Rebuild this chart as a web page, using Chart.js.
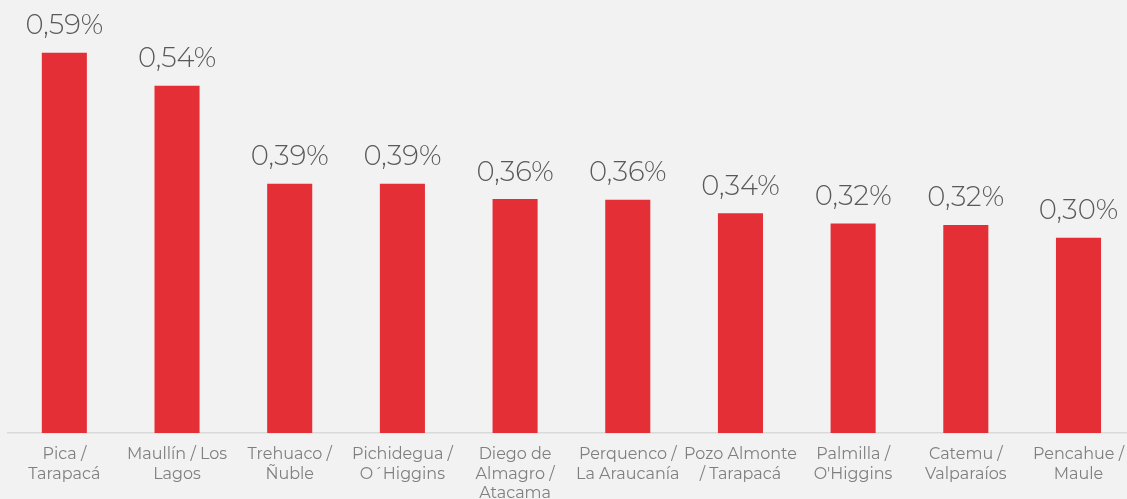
<!DOCTYPE html>
<html>
<head>
<meta charset="utf-8">
<script src="https://cdn.jsdelivr.net/npm/chart.js@4/dist/chart.umd.min.js"></script>
<style>
  html, body { margin: 0; padding: 0; background: #f2f2f2; overflow: hidden; }
  #wrap { position: relative; width: 1136px; height: 499px; }
</style>
</head>
<body>
<div id="wrap"><canvas id="c"></canvas></div>
<script>
const categories = [
  ['Pica /', 'Tarapacá'],
  ['Maullín / Los', 'Lagos'],
  ['Trehuaco /', 'Ñuble'],
  ['Pichidegua /', 'O´Higgins'],
  ['Diego de', 'Almagro /', 'Atacama'],
  ['Perquenco /', 'La Araucanía'],
  ['Pozo Almonte', '/ Tarapacá'],
  ['Palmilla /', "O'Higgins"],
  ['Catemu /', 'Valparaíos'],
  ['Pencahue /', 'Maule']
];
const values = [0.590, 0.539, 0.387, 0.387, 0.363, 0.362, 0.341, 0.325, 0.323, 0.303];
const valueLabels = ['0,59%', '0,54%', '0,39%', '0,39%', '0,36%', '0,36%', '0,34%', '0,32%', '0,32%', '0,30%'];

const FONT = "Montserrat, Lato, 'Open Sans', sans-serif";

const labelPlugin = {
  id: 'valueLabels',
  afterDatasetsDraw(chart) {
    const ctx = chart.ctx;
    const meta = chart.getDatasetMeta(0);
    ctx.save();
    ctx.font = '300 27.5px ' + FONT;
    ctx.fillStyle = '#595959';
    ctx.textAlign = 'center';
    ctx.textBaseline = 'alphabetic';
    meta.data.forEach((bar, i) => {
      ctx.fillText(valueLabels[i], bar.x, bar.y - 18.5);
    });
    ctx.restore();
  }
};

new Chart(document.getElementById('c'), {
  type: 'bar',
  data: {
    labels: categories,
    datasets: [{
      data: values,
      backgroundColor: '#e52f37',
      borderWidth: 0,
      barPercentage: 0.4,
      categoryPercentage: 1.0
    }]
  },
  options: {
    responsive: true,
    maintainAspectRatio: false,
    animation: false,
    layout: { padding: { left: 8, right: 0, top: 0, bottom: 0 } },
    plugins: { legend: { display: false }, tooltip: { enabled: false } },
    scales: {
      x: {
        grid: { display: false, drawTicks: false },
        border: { display: true, color: '#d9d9d9', width: 1.5 },
        ticks: {
          color: '#7f7f7f',
          font: { family: FONT, size: 16, weight: 400, lineHeight: 1.2 },
          padding: 12,
          maxRotation: 0,
          autoSkip: false
        },
        afterFit(scale) { scale.height = 66; }
      },
      y: {
        display: false,
        min: 0,
        max: 0.672
      }
    }
  },
  plugins: [labelPlugin]
});
</script>
</body>
</html>
